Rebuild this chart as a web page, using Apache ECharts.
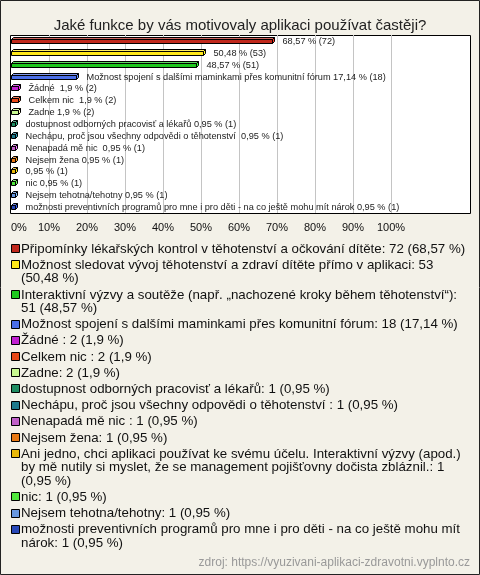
<!DOCTYPE html>
<html><head><meta charset="utf-8">
<script src="https://cdn.jsdelivr.net/npm/echarts@6/dist/echarts.min.js"></script>
<style>html,body{margin:0;padding:0;background:#f3f1e8}#c{width:480px;height:575px}</style>
</head><body><div id="c"></div>
<script>
const FONT = '"Liberation Sans", Arial, sans-serif';
const titleText = 'Jaké funkce by vás motivovaly aplikaci používat častěji?';
const sourceText = 'zdroj: https://vyuzivani-aplikaci-zdravotni.vyplnto.cz';
const categories = [
  'Připomínky lékařských kontrol v těhotenství a očkování dítěte',
  'Možnost sledovat vývoj těhotenství a zdraví dítěte přímo v aplikaci',
  'Interaktivní výzvy a soutěže (např. „nachozené kroky během těhotenství“)',
  'Možnost spojení s dalšími maminkami přes komunitní fórum',
  'Žádné ',
  'Celkem nic ',
  'Zadne',
  'dostupnost odborných pracovisť a lékařů',
  'Nechápu, proč jsou všechny odpovědi o těhotenství ',
  'Nenapadá mě nic ',
  'Nejsem žena',
  'Ani jedno, chci aplikaci používat ke svému účelu. Interaktivní výzvy (apod.) by mě nutily si myslet, že se management pojišťovny dočista zbláznil.',
  'nic',
  'Nejsem tehotna/tehotny',
  'možnosti preventivních programů pro mne i pro děti - na co ještě mohu mít nárok'
];
const barNames = ['', '', '', 'Možnost spojení s dalšími maminkami přes komunitní fórum', 'Žádné ', 'Celkem nic ', 'Zadne',
  'dostupnost odborných pracovisť a lékařů', 'Nechápu, proč jsou všechny odpovědi o těhotenství ', 'Nenapadá mě nic ',
  'Nejsem žena', '', 'nic', 'Nejsem tehotna/tehotny',
  'možnosti preventivních programů pro mne i pro děti - na co ještě mohu mít nárok'];
const percentages = [68.57, 50.48, 48.57, 17.14, 1.9, 1.9, 1.9, 0.95, 0.95, 0.95, 0.95, 0.95, 0.95, 0.95, 0.95];
const counts = [72, 53, 51, 18, 2, 2, 2, 1, 1, 1, 1, 1, 1, 1, 1];
const colors = ['#c0281c', '#ffe81a', '#1ec81e', '#4a6ee8', '#c020d0', '#e84818', '#c8f890', '#1e8c62',
  '#1e7a8c', '#c060c8', '#e87814', '#e8b80a', '#50e83c', '#6898e0', '#2848b8'];
const xTickMax = 100, xTickStep = 10;

const fmtPct = v => String(v).replace('.', ',') + '\u00a0%';
const barLabel = i => (barNames[i] ? barNames[i] + ' ' : '') + fmtPct(percentages[i]) + ' (' + counts[i] + ')';
const legendLabel = i => categories[i] + ': ' + counts[i] + ' (' + fmtPct(percentages[i]) + ')';

const ctx = document.createElement('canvas').getContext('2d');
const LEG_SIZE = 13.3;
ctx.font = LEG_SIZE + 'px ' + FONT;
function wrap(t, maxW) {
  const words = t.split(' '); const lines = []; let cur = '';
  for (const w of words) {
    const test = cur ? cur + ' ' + w : w;
    if (cur && ctx.measureText(test).width > maxW) { lines.push(cur); cur = w; } else cur = test;
  }
  lines.push(cur); return lines;
}

const graphics = [];
let cy = 249;
const LH = 13.5, GAP = 16.2;
categories.forEach((c, i) => {
  const lines = wrap(legendLabel(i), 450);
  const ry = Math.round(cy);
  graphics.push({type: 'rect', shape: {x: 11.5, y: ry - 4.5, width: 8, height: 8},
    style: {fill: colors[i], stroke: '#000', lineWidth: 1}, silent: true});
  graphics.push({type: 'text', x: 21, y: cy - LH / 2,
    style: {text: lines.join('\n'), font: LEG_SIZE + 'px ' + FONT, lineHeight: LH, verticalAlign: 'top', fill: '#111'}});
  cy += (lines.length - 1) * LH + GAP;
});
graphics.push({type: 'text', x: 470, y: 563, style: {text: sourceText, font: '12px ' + FONT, fill: '#999', align: 'right', verticalAlign: 'middle'}});
graphics.push({type: 'rect', shape: {x: 0.5, y: 0.5, width: 479, height: 574}, style: {fill: 'none', stroke: '#222', lineWidth: 1}, silent: true});

const chart = echarts.init(document.getElementById('c'), null, {renderer: 'canvas'});
chart.setOption({
  backgroundColor: '#f3f1e8',
  animation: false,
  title: {text: titleText, left: 'center', top: 13, textStyle: {fontSize: 15, fontWeight: 'normal', color: '#222', fontFamily: FONT}},
  grid: [
    {left: 11, top: 35, width: 380, height: 178},
    {show: true, left: 10.5, top: 35.5, width: 460, height: 178, backgroundColor: '#fff', borderColor: '#000', borderWidth: 1}
  ],
  xAxis: {type: 'value', gridIndex: 0, min: 0, max: xTickMax, interval: xTickStep,
    axisLine: {show: false}, axisTick: {show: false},
    splitLine: {show: true, showMinLine: false, lineStyle: {color: '#c4c4c4', width: 1}},
    axisLabel: {formatter: '{value}%', fontSize: 11, fontFamily: FONT, color: '#111', margin: 9, alignMinLabel: 'left'}},
  yAxis: {type: 'category', gridIndex: 0, inverse: true, data: categories, show: false},
  series: [{
    type: 'custom', clip: false,
    encode: {x: 0, y: 1},
    data: percentages.map((v, i) => [v, i]),
    renderItem(params, api) {
      const i = params.dataIndex;
      const p0 = api.coord([0, api.value(1)]);
      const p1 = api.coord([api.value(0), api.value(1)]);
      const x0 = Math.round(p0[0]) + 0.5, x1 = Math.round(p1[0]) + 0.5;
      const ry = Math.round(p0[1]);
      const yT = ry - 1.5, yB = ry + 2.5, d = 2;
      const c = colors[i];
      return {type: 'group', children: [
        {type: 'polygon', shape: {points: [[x0, yT], [x0 + d, yT - d], [x1 + d, yT - d], [x1, yT]]}, style: {fill: echarts.color.lift(c, 0.3), stroke: '#000', lineWidth: 1}},
        {type: 'polygon', shape: {points: [[x1, yT], [x1 + d, yT - d], [x1 + d, yB - d], [x1, yB]]}, style: {fill: echarts.color.lift(c, -0.3), stroke: '#000', lineWidth: 1}},
        {type: 'rect', shape: {x: x0, y: yT, width: x1 - x0, height: yB - yT}, style: {fill: c, stroke: '#000', lineWidth: 1}},
        {type: 'text', x: x1 + d + 8, y: ry, style: {text: barLabel(i), font: '9.2px ' + FONT, fill: '#222', verticalAlign: 'middle'}}
      ]};
    }
  }],
  graphic: graphics
});
</script></body></html>
